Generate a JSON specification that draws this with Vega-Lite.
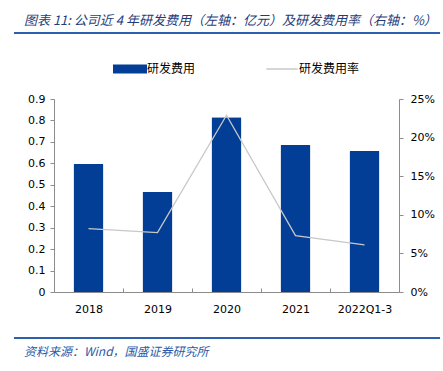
{
  "$schema": "https://vega.github.io/schema/vega-lite/v6.json",
  "width": 345,
  "height": 193,
  "autosize": {"type": "none"},
  "padding": {"left": 54, "top": 99, "right": 44, "bottom": 79},
  "background": "white",
  "config": {
    "view": {"stroke": null},
    "font": "DejaVu Sans",
    "axis": {
      "grid": false,
      "domainColor": "#8c8c8c",
      "tickColor": "#8c8c8c",
      "labelColor": "#000000",
      "labelFont": "DejaVu Sans",
      "labelFontSize": 11,
      "labelFontWeight": "normal",
      "title": null
    }
  },
  "data": {
    "values": [
      {"year": "2018", "expense": 0.597, "rate": 8.2},
      {"year": "2019", "expense": 0.466, "rate": 7.7},
      {"year": "2020", "expense": 0.815, "rate": 22.9},
      {"year": "2021", "expense": 0.685, "rate": 7.3},
      {"year": "2022Q1-3", "expense": 0.657, "rate": 6.1}
    ]
  },
  "layer": [
    {
      "mark": {"type": "bar", "width": 30, "cornerRadius": 1},
      "encoding": {
        "x": {
          "field": "year", "type": "ordinal", "sort": null,
          "scale": {"paddingInner": 0, "paddingOuter": 0},
          "axis": {"labelAngle": 0, "tickBand": "extent", "tickSize": -4, "labelPadding": 15, "domainColor": "#8c8c8c"}
        },
        "y": {
          "field": "expense", "type": "quantitative",
          "scale": {"domain": [0, 0.9], "nice": false},
          "axis": {"orient": "left", "values": [0, 0.1, 0.2, 0.3, 0.4, 0.5, 0.6, 0.7, 0.8, 0.9], "tickSize": 4, "labelPadding": 5, "labelExpr": "datum.value == 0 ? '0' : format(datum.value, '.1f')"}
        },
        "color": {
          "datum": "研发费用",
          "type": "nominal",
          "scale": {"domain": ["研发费用", "研发费用率"], "range": ["#023E96", "#C8C8C8"]},
          "legend": {
            "orient": "none",
            "legendX": 70,
            "legendY": -36,
            "direction": "horizontal",
            "title": null,
            "symbolSize": 1156,
            "labelFont": "Noto Sans CJK SC",
            "labelFontSize": 12,
            "labelColor": "#000000",
            "labelOffset": 11,
            "columnPadding": 67,
            "encode": {
              "symbols": {
                "update": {
                  "shape": {"signal": "datum.value === '研发费用' ? 'M-1,-0.27H1V0.27H-1Z' : 'M-0.92,0H0.92'"},
                  "fill": {"signal": "datum.value === '研发费用' ? '#023E96' : 'transparent'"},
                  "stroke": {"signal": "datum.value === '研发费用' ? '#023E96' : '#C8C8C8'"},
                  "strokeWidth": {"signal": "datum.value === '研发费用' ? 0 : 1.5"},
                  "opacity": {"value": 1}
                }
              }
            }
          }
        }
      }
    },
    {
      "mark": {"type": "line", "strokeWidth": 1.3},
      "encoding": {
        "x": {"field": "year", "type": "ordinal", "sort": null, "axis": null},
        "y": {
          "field": "rate", "type": "quantitative",
          "scale": {"domain": [0, 25], "nice": false},
          "axis": {"orient": "right", "values": [0, 5, 10, 15, 20, 25], "tickSize": 4, "labelPadding": 7, "labelExpr": "datum.value + '%'"}
        },
        "color": {"datum": "研发费用率", "type": "nominal"}
      }
    },
    {
      "data": {"values": [{}]},
      "layer": [
        {
          "mark": {"type": "rule", "color": "#2E5FAE", "strokeWidth": 2},
          "encoding": {
            "x": {"datum": -0.116, "type": "quantitative", "scale": {"domain": [0, 1], "nice": false, "zero": false}, "axis": null},
            "x2": {"datum": 1.119},
            "y": {"datum": 1.342, "type": "quantitative", "scale": {"domain": [0, 1], "nice": false, "zero": false}, "axis": null}
          }
        },
        {
          "mark": {"type": "rule", "color": "#2E5FAE", "strokeWidth": 2},
          "encoding": {
            "x": {"datum": -0.116, "type": "quantitative"},
            "x2": {"datum": 1.119},
            "y": {"datum": -0.238, "type": "quantitative"}
          }
        },
        {
          "mark": {"type": "text", "align": "left", "baseline": "middle", "font": "Noto Sans CJK SC", "fontSize": 13, "fontStyle": "italic", "color": "#1F3D7A"},
          "encoding": {
            "x": {"datum": -0.087, "type": "quantitative"},
            "y": {"datum": 1.404, "type": "quantitative"},
            "text": {"value": "图表 11: 公司近 4 年研发费用（左轴：亿元）及研发费用率（右轴：%）"}
          }
        },
        {
          "mark": {"type": "text", "align": "left", "baseline": "middle", "font": "Noto Sans CJK SC", "fontSize": 12, "fontStyle": "italic", "color": "#2A5AA8"},
          "encoding": {
            "x": {"datum": -0.087, "type": "quantitative"},
            "y": {"datum": -0.311, "type": "quantitative"},
            "text": {"value": "资料来源：Wind，国盛证券研究所"}
          }
        }
      ]
    }
  ],
  "resolve": {"scale": {"x": "independent", "y": "independent"}}
}
